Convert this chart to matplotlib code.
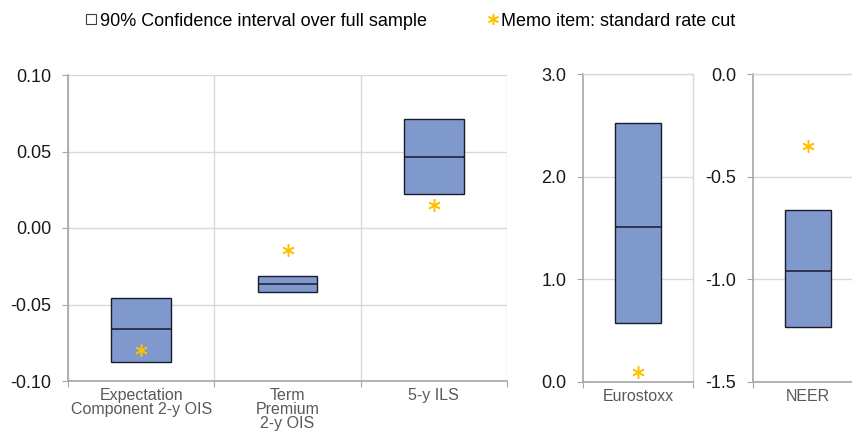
import matplotlib
matplotlib.use("Agg")
import matplotlib.pyplot as plt
from matplotlib.lines import Line2D

plt.rcParams['font.family'] = ['Liberation Sans', 'DejaVu Sans']

# ---- data ----
cats_rates = ["Expectation\nComponent 2-y OIS", "Term\nPremium\n2-y OIS", "5-y ILS"]
rates_low = [-0.0874, -0.0418, 0.0222]
rates_high = [-0.0455, -0.0314, 0.0712]
rates_mid = [-0.0662, -0.0366, 0.0464]
rates_memo = [-0.080, -0.0144, 0.015]

cats_stoxx = ["Eurostoxx"]
stoxx_low = [0.57]
stoxx_high = [2.52]
stoxx_mid = [1.51]
stoxx_memo = [0.095]

cats_neer = ["NEER"]
neer_low = [-1.234]
neer_high = [-0.662]
neer_mid = [-0.96]
neer_memo = [-0.349]

yticks_rates = [-0.10, -0.05, 0.00, 0.05, 0.10]
yticks_stoxx = [0.0, 1.0, 2.0, 3.0]
yticks_neer = [-1.5, -1.0, -0.5, 0.0]

legend_labels = ["90% Confidence interval over full sample", "Memo item: standard rate cut"]

BOX = '#7F99CC'
EDGE = '#1A1A2E'
STAR = '#FFC000'
GRID = '#D9D9D9'
SPINE = '#A6A6A6'
STARMARK = (6, 2, 0)

fig = plt.figure(figsize=(8.53, 4.32), dpi=100)


def panel(rect, cats, low, high, mid, memo, yticks, fmt, full_box):
    ax = fig.add_axes(rect)
    n = len(cats)
    xs = [i + 0.5 for i in range(n)]
    heights = [h - l for h, l in zip(high, low)]
    ax.bar(xs, heights, bottom=low, width=0.41, color=BOX, edgecolor=EDGE,
           linewidth=1.0, zorder=2)
    ax.hlines(mid, [x - 0.205 for x in xs], [x + 0.205 for x in xs],
              colors=EDGE, linewidth=1.1, zorder=3)
    ax.plot(xs, memo, ls='none', marker=STARMARK, ms=9, mew=1.1,
            color=STAR, zorder=4)
    ax.set_xlim(0, n)
    ax.set_ylim(yticks[0], yticks[-1])
    ax.set_yticks(yticks)
    ax.set_yticklabels([fmt.format(v) for v in yticks], fontsize=13,
                       color='#1A1A1A')
    ax.set_xticks(range(n + 1))
    ax.set_xticklabels([])
    ax.set_xticks(xs, minor=True)
    ax.set_xticklabels(cats, minor=True, fontsize=11.5, color='#595959',
                       linespacing=0.9, va='top')
    ax.tick_params(axis='x', which='minor', length=0, pad=5)
    ax.tick_params(axis='x', which='major', length=4, color=SPINE)
    ax.tick_params(axis='y', length=4, color=SPINE, pad=8)
    ax.grid(True, axis='y', color=GRID, linewidth=1.0, zorder=0)
    if not full_box:
        ax.grid(True, axis='x', which='major', color=GRID, linewidth=1.0, zorder=0)
    ax.set_axisbelow(True)
    for s in ['left', 'bottom']:
        ax.spines[s].set_color(SPINE)
        ax.spines[s].set_linewidth(1.2)
    for s in ['top', 'right']:
        ax.spines[s].set_color(GRID)
        ax.spines[s].set_linewidth(1.0)
        if not full_box:
            ax.spines[s].set_visible(False)
    return ax


ax1 = panel([68/853, 51/432, 439/853, 306/432], cats_rates, rates_low, rates_high,
            rates_mid, rates_memo, yticks_rates, "{:.2f}", False)
ax2 = panel([583/853, 50/432, 110/853, 308/432], cats_stoxx, stoxx_low, stoxx_high,
            stoxx_mid, stoxx_memo, yticks_stoxx, "{:.1f}", True)
ax3 = panel([753/853, 50/432, 110/853, 308/432], cats_neer, neer_low, neer_high,
            neer_mid, neer_memo, yticks_neer, "{:.1f}", True)

handles = [
    Line2D([], [], ls='none', marker='s', ms=6.5, markerfacecolor='white',
           markeredgecolor='#404040', mew=0.8),
    Line2D([], [], ls='none', marker=STARMARK, ms=8, mew=1.1, color=STAR),
]
fig.legend(handles, legend_labels, loc='center left', bbox_to_anchor=(86/853, 1 - 21/432),
           ncol=2, frameon=False, fontsize=13, handlelength=0.55,
           handletextpad=0.2, columnspacing=3.4, borderaxespad=0, borderpad=0)

fig.savefig("out.png", dpi=100)
